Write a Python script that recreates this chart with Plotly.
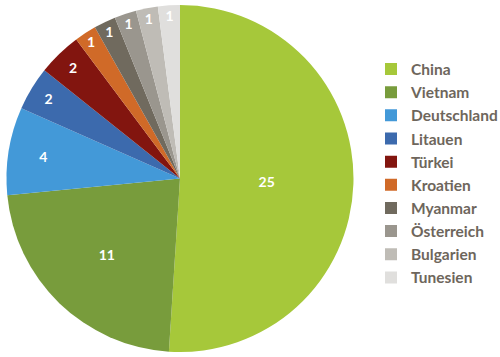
import plotly.graph_objects as go

labels = ["China", "Vietnam", "Deutschland", "Litauen", "Türkei", "Kroatien",
          "Myanmar", "Österreich", "Bulgarien", "Tunesien"]
values = [25, 11, 4, 2, 2, 1, 1, 1, 1, 1]
colors = ["#a6c83a", "#789c3c", "#4399d8", "#3c6aad", "#82150f", "#d06a28",
          "#706a5e", "#9a968e", "#bfbcb6", "#e0dfdd"]

fig = go.Figure(go.Pie(
    labels=labels, values=values, sort=False, direction="clockwise", rotation=0,
    marker=dict(colors=colors, line=dict(width=0)),
    textinfo="value", textposition="inside", insidetextorientation="horizontal",
    textfont=dict(color="white", size=14, family="Lato", weight="bold"),
    domain=dict(x=[0.012, 0.708], y=[0.014, 0.986]),
    hoverinfo="label+value",
))
fig.update_layout(
    width=500, height=357, margin=dict(l=0, r=0, t=0, b=0, autoexpand=False),
    paper_bgcolor="white", plot_bgcolor="white",
    font=dict(family="Lato"),
    legend=dict(x=0.742, y=0.853, xanchor="left", yanchor="top",
                font=dict(size=15.5, color="#6e665c", family="Lato", weight="bold"),
                itemwidth=30, tracegroupgap=0),
    showlegend=True,
)
fig.write_html("out.html", config={"displayModeBar": False},
               post_script="document.body.style.margin='0';")
